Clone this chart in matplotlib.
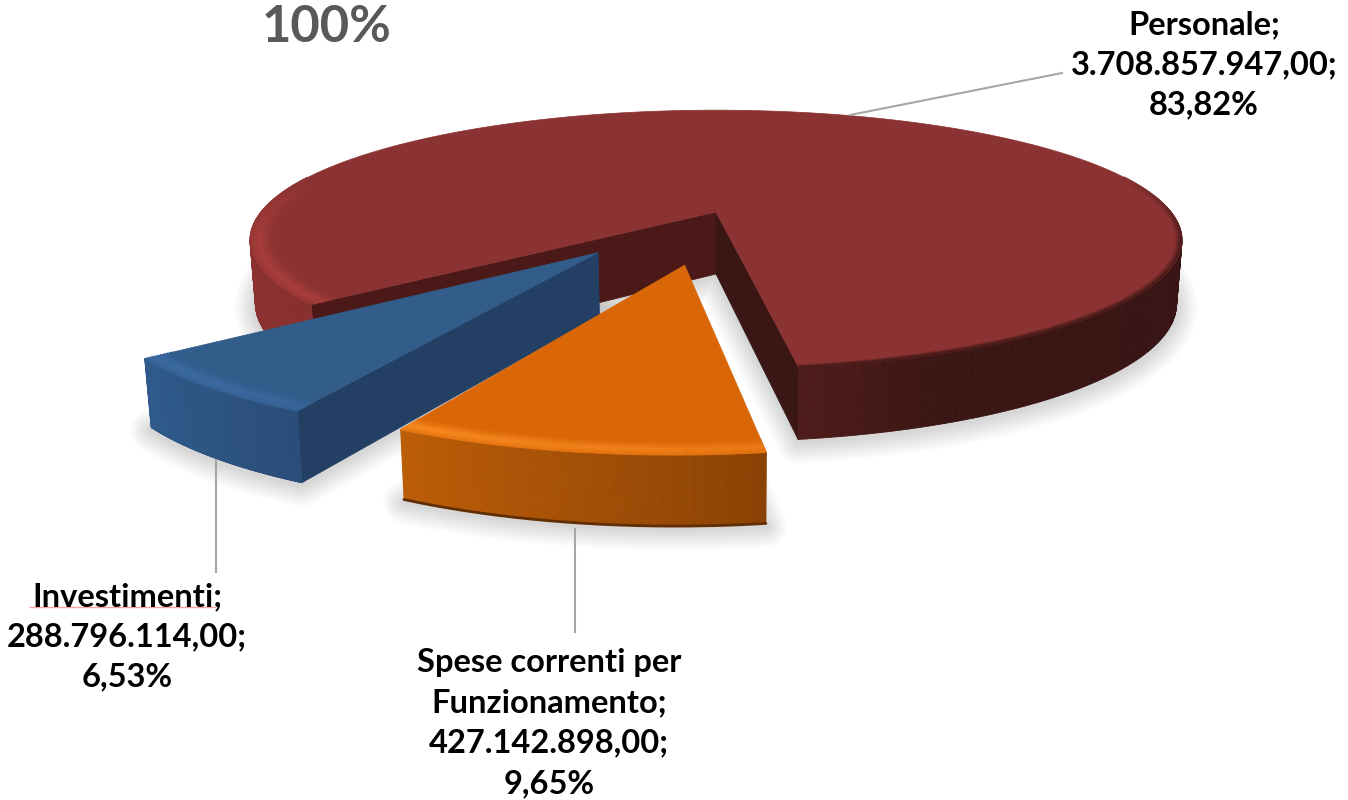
import numpy as np
import matplotlib
matplotlib.use("Agg")
import matplotlib.pyplot as plt
from matplotlib.collections import PolyCollection, LineCollection
from matplotlib.colors import to_rgb
from matplotlib.patches import Polygon

# dati del grafico
labels = ["Personale", "Spese correnti per\nFunzionamento", "Investimenti"]
values = [3708857947.00, 427142898.00, 288796114.00]
percents = ["83,82%", "9,65%", "6,53%"]
amounts = ["3.708.857.947,00", "427.142.898,00", "288.796.114,00"]
title = "100%"

# stile
explode = [0.0, 0.382, 0.375]
radius = [0.96, 0.945, 0.95]
depth_scale = [0.97, 0.9, 0.94]
top_colors = ["#8B3232", "#D96708", "#325C89"]
wall_colors = [["#8A3130", "#7A2B2B", "#5A1F1F", "#3A1614", "#381514"],
               ["#BC5D08", "#8A4204"],
               ["#2F5A8A", "#2B4C78"]]
bevel_colors = ["#A83E3B", "#FA8B20", "#3F70AB"]
wall_x = [(250, 1180), (400, 765), (146, 305)]
start_angle = 220.0

CX, CY = 716, 212
A, B, C = 129, 474, 0.225


def project(X, Y, z=0.0):
    # prospettiva semplice, z = 1 sta sul fondo della fetta
    X, Y = np.asarray(X, float), np.asarray(Y, float)
    w = 1 + C * Y
    x = CX + B * X / w
    y = CY - A * Y / w
    if np.any(z):
        x = CX + (x - CX) * (1 - 0.012 * min(z, 1))
        y = y + z * (28 + 36 / w)
    return x, y


def blend(c1, c2, t):
    return tuple((1 - t) * a + t * b for a, b in zip(to_rgb(c1), to_rgb(c2)))


def wall_color(stops, t):
    t = np.clip(t, 0, 1) * (len(stops) - 1)
    i = min(int(t), len(stops) - 2)
    return blend(stops[i], stops[i + 1], t - i)


def wedge_xy(ang, ox, oy, r):
    rad = np.radians(ang)
    return ox + r * np.cos(rad), oy + r * np.sin(rad)


shares = np.array(values) / sum(values)
wedges = []
a = start_angle
for i, s in enumerate(shares):
    a1 = a - 360 * s  # senso orario
    mid = np.radians((a + a1) / 2)
    wedges.append((a1, a, explode[i] * np.cos(mid), explode[i] * np.sin(mid), radius[i]))
    a = a1

fig = plt.figure(figsize=(13.48, 8), dpi=100)
ax = fig.add_axes([0, 0, 1, 1])
ax.set_xlim(0, 1348)
ax.set_ylim(800, 0)
ax.axis("off")
plt.rcParams["font.family"] = ["Lato", "DejaVu Sans"]


def outline(i, z=0.0):
    a0, a1, ox, oy, r = wedges[i]
    angs = np.linspace(a0, a1, 240)
    X, Y = wedge_xy(angs, ox, oy, r)
    x, y = project(np.r_[ox, X], np.r_[oy, Y], z)
    return np.c_[x, y]


# ombre
for i in range(3):
    pts = outline(i, depth_scale[i]) + [0, 3]
    for lw in range(30, 0, -3):
        ax.add_patch(Polygon(pts, closed=True, fc="none", ec="#000000", lw=lw, alpha=0.014, joinstyle="round"))


def draw_wedge(i, faces):
    a0, a1, ox, oy, r = wedges[i]
    dz = depth_scale[i]
    # facce tagliate
    for ang, col in faces:
        X, Y = wedge_xy(ang, ox, oy, r)
        x0, y0 = project(ox, oy)
        x1, y1 = project(X, Y)
        x2, y2 = project(X, Y, dz)
        x3, y3 = project(ox, oy, dz)
        ax.add_patch(Polygon([(x0, y0), (x1, y1), (x2, y2), (x3, y3)], closed=True, fc=col, ec=col, lw=0.5))
    # bordo esterno
    angs = np.linspace(a0, a1, 361)
    X, Y = wedge_xy(angs, ox, oy, r)
    xt, yt = project(X, Y)
    xb, yb = project(X, Y, dz)
    lo, hi = wall_x[i]
    quads, cols = [], []
    for k in range(len(angs) - 1):
        if np.sin(np.radians(angs[k])) > 0.25:
            continue
        quads.append([(xt[k], yt[k]), (xt[k + 1], yt[k + 1]), (xb[k + 1], yb[k + 1]), (xb[k], yb[k])])
        cols.append(wall_color(wall_colors[i], (xt[k] - lo) / (hi - lo)))
    ax.add_collection(PolyCollection(quads, facecolors=cols, edgecolors=cols, linewidths=0.6))
    # bordo scuro in basso (solo arancione)
    if i == 1:
        ax.plot(xb, yb, color=blend(wall_colors[i][-1], "#000000", 0.3), lw=2, solid_capstyle="round")
    # faccia superiore
    ax.add_patch(Polygon(outline(i), closed=True, fc=top_colors[i], ec=top_colors[i], lw=0.5))
    # smusso sul bordo, dal piu interno al piu esterno
    sin_a = np.sin(np.radians(angs))
    for e, t in zip(np.linspace(0.045, 0.003, 8), [0.15, 0.35, 0.55, 0.8, 1.0, 0.95, 0.8, 0.6]):
        xe, ye = project(*wedge_xy(angs, ox, oy, r - e))
        segs, line_cols = [], []
        for k in range(len(angs) - 1):
            if sin_a[k] > 0.3 or sin_a[k + 1] > 0.3:
                continue
            segs.append([(xe[k], ye[k]), (xe[k + 1], ye[k + 1])])
            if i == 0:
                # a sinistra chiaro, a destra sfuma nel bordo scuro
                fade = np.clip((0.3 - sin_a[k]) / 0.5, 0, 1)
                f = np.clip((xt[k] - 300) / 100, 0, 1)
                t_dark = np.clip(1 - e / 0.014, 0, 1)
                col_left = blend(top_colors[0], bevel_colors[0], t)
                col_right = blend(top_colors[0], wall_color(wall_colors[0], 0.8), t_dark)
                line_cols.append(blend(top_colors[0], blend(col_left, col_right, f), fade))
            else:
                f = (xt[k] - lo) / (hi - lo)
                line_cols.append(blend(top_colors[i], bevel_colors[i], t * (1 - 0.45 * f)))
        ax.add_collection(LineCollection(segs, colors=line_cols, linewidths=2.2))


draw_wedge(0, [(wedges[0][1], "#4A1918"), (wedges[0][0] + 360, "#3A1614")])
draw_wedge(2, [(wedges[2][1], "#243F64")])
draw_wedge(1, [])

# linee guida
ax.plot([850, 1062], [115, 73], color="#A6A6A6", lw=1.5)
ax.plot([216, 216], [460, 572], color="#A6A6A6", lw=1.5)
ax.plot([575, 575], [529, 632], color="#A6A6A6", lw=1.5)

# etichette
font = dict(ha="center", va="center", fontweight="bold", fontsize=23.5, color="black", linespacing=1.47)
label_pos = [(1204, 65), (549, 723), (127, 637)]
for lab, amt, pct, (x, y) in zip(labels, amounts, percents, label_pos):
    ax.text(x, y, lab + ";\n" + amt + ";\n" + pct, **font)
ax.plot([30, 215], [607, 607], color="#F4A3A3", lw=1)

ax.text(327, 27, title, ha="center", va="center", fontweight="bold", fontsize=36.5, color="#595959")

fig.savefig("out.png", dpi=100)
